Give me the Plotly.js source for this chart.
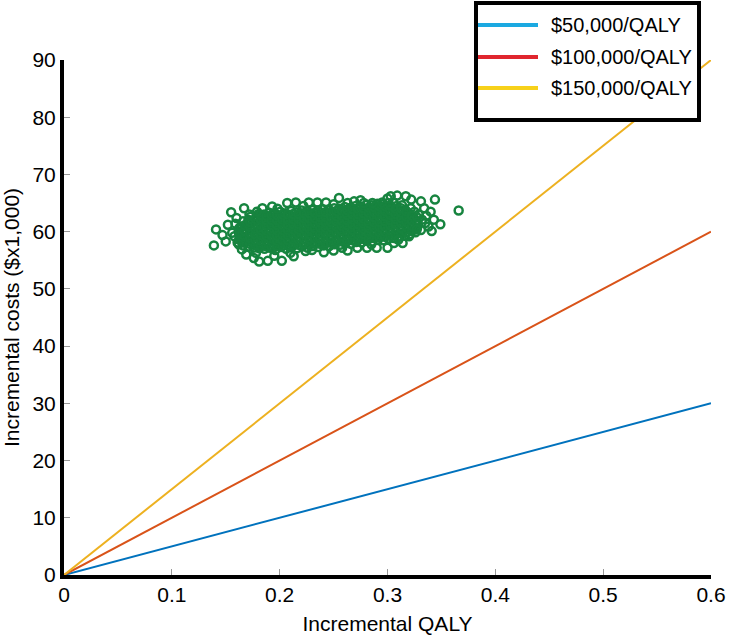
<!DOCTYPE html>
<html>
<head>
<meta charset="utf-8">
<script src="https://cdn.plot.ly/plotly-3.0.1.min.js"></script>
<style>html,body{margin:0;padding:0;background:#fff;}#chart{width:732px;height:638px;}</style>
</head>
<body>
<div id="chart"></div>
<script>
// Probabilistic sensitivity analysis: incremental QALY (x) vs incremental cost in $1,000 (y)
// Core of the cloud
const qalyCore = [
0.161,0.158,0.162,0.159,
0.166,0.163,0.167,0.164,0.166,
0.171,0.168,0.172,0.169,0.170,0.171,
0.176,0.173,0.177,0.174,0.175,0.176,0.173,
0.181,0.178,0.182,0.179,0.180,0.1815,0.1785,0.1805,
0.186,0.183,0.187,0.184,0.185,0.1865,0.1835,0.1855,
0.191,0.188,0.192,0.189,0.190,0.1915,0.1885,0.1905,
0.196,0.193,0.197,0.194,0.195,0.1965,0.1935,0.1955,
0.201,0.198,0.202,0.199,0.200,0.2015,0.1985,0.2005,
0.206,0.203,0.207,0.204,0.205,0.2065,0.2035,0.2055,
0.211,0.208,0.212,0.209,0.210,0.2115,0.2085,0.2105,
0.216,0.213,0.217,0.214,0.215,0.2165,0.2135,0.2155,
0.221,0.218,0.222,0.219,0.220,0.2215,0.2185,0.2205,
0.226,0.223,0.227,0.224,0.225,0.2265,0.2235,0.2255,
0.231,0.228,0.232,0.229,0.230,0.2315,0.2285,0.2305,
0.236,0.233,0.237,0.234,0.235,0.2365,0.2335,0.2355,
0.241,0.238,0.242,0.239,0.240,0.2415,0.2385,0.2405,
0.246,0.243,0.247,0.244,0.245,0.2465,0.2435,0.2455,
0.251,0.248,0.252,0.249,0.250,0.2515,0.2485,0.2505,
0.256,0.253,0.257,0.254,0.255,0.2565,0.2535,0.2555,
0.261,0.258,0.262,0.259,0.260,0.2615,0.2585,0.2605,
0.266,0.263,0.267,0.264,0.265,0.2665,0.2635,0.2655,
0.271,0.268,0.272,0.269,0.270,0.2715,0.2685,0.2705,
0.276,0.273,0.277,0.274,0.275,0.2765,0.2735,0.2755,
0.281,0.278,0.282,0.279,0.280,0.2815,0.2785,0.2805,
0.286,0.283,0.287,0.284,0.285,0.2865,0.2835,0.2855,
0.291,0.288,0.292,0.289,0.290,0.2915,0.2885,0.2905,
0.296,0.293,0.297,0.294,0.295,0.2965,0.2935,0.2955,
0.301,0.298,0.302,0.299,0.300,0.3015,0.2985,0.3005,
0.306,0.303,0.307,0.304,0.305,0.3065,0.3035,0.3055,
0.311,0.308,0.312,0.309,0.310,0.3115,0.3085,
0.316,0.313,0.317,0.314,0.315,0.3165,0.3135,
0.321,0.318,0.322,0.319,0.320,0.3215,
0.326,0.323,0.327,0.324,0.325,
0.331,0.328,0.332,0.329
];
const costCore = [
58.1,59.2,60.0,61.4,
57.6,58.9,59.6,60.9,61.8,
57.4,58.5,59.3,60.4,61.3,62.1,
57.2,58.3,59.0,60.2,60.8,61.9,62.6,
57.1,58.1,58.9,59.9,60.9,61.6,62.7,63.1,
57.0,57.8,58.9,59.5,60.7,61.4,62.4,63.0,
57.2,58.0,59.0,59.8,60.6,61.7,62.4,63.3,
56.8,57.9,58.6,59.7,60.4,61.5,62.2,63.2,
57.3,58.0,59.1,59.9,60.8,61.6,62.6,63.5,
57.0,58.1,58.8,59.8,60.7,61.5,62.4,63.2,
57.3,58.2,59.1,60.0,60.9,61.8,62.7,63.6,
57.1,58.0,59.0,59.9,60.8,61.7,62.6,63.4,
57.4,58.3,59.2,60.1,61.0,61.9,62.8,63.7,
57.2,58.1,59.0,60.0,60.9,61.8,62.7,63.6,
57.5,58.4,59.3,60.2,61.1,62.0,62.9,63.8,
57.3,58.2,59.2,60.1,61.0,61.9,62.8,63.7,
57.6,58.5,59.4,60.3,61.2,62.1,63.0,63.9,
57.5,58.4,59.3,60.3,61.2,62.1,63.0,63.9,
57.8,58.7,59.6,60.5,61.4,62.3,63.2,64.1,
57.7,58.6,59.5,60.4,61.3,62.2,63.1,64.0,
58.0,58.9,59.8,60.7,61.6,62.5,63.4,64.3,
57.9,58.8,59.7,60.6,61.5,62.4,63.3,64.2,
58.2,59.1,60.0,60.9,61.8,62.7,63.6,64.5,
58.1,59.0,59.9,60.8,61.7,62.6,63.5,64.4,
58.4,59.3,60.2,61.1,62.0,62.9,63.8,64.7,
58.3,59.2,60.1,61.0,61.9,62.8,63.7,64.6,
58.6,59.5,60.4,61.3,62.2,63.1,64.0,64.9,
58.5,59.4,60.3,61.2,62.1,63.0,63.9,64.8,
58.8,59.7,60.6,61.5,62.4,63.3,64.2,65.0,
58.9,59.8,60.7,61.6,62.5,63.4,64.3,65.1,
59.1,60.0,60.9,61.8,62.7,63.6,64.5,
59.3,60.2,61.1,62.0,62.9,63.8,64.6,
59.6,60.5,61.4,62.3,63.2,64.1,
59.9,60.8,61.7,62.6,63.5,
60.3,61.2,62.1,63.0
];
// Points lying between the core ones (dense middle of the cloud)
const qalyMid = [
0.1625,0.1625,0.1625,
0.1675,0.1675,0.1675,0.1675,
0.1725,0.1725,0.1725,0.1725,0.1725,
0.1775,0.1775,0.1775,0.1775,0.1775,0.1775,
0.1825,0.1825,0.1825,0.1825,0.1825,0.1825,0.1825,
0.1875,0.1875,0.1875,0.1875,0.1875,0.1875,0.1875,
0.1925,0.1925,0.1925,0.1925,0.1925,0.1925,0.1925,
0.1975,0.1975,0.1975,0.1975,0.1975,0.1975,0.1975,
0.2025,0.2025,0.2025,0.2025,0.2025,0.2025,0.2025,
0.2075,0.2075,0.2075,0.2075,0.2075,0.2075,0.2075,
0.2125,0.2125,0.2125,0.2125,0.2125,0.2125,0.2125,
0.2175,0.2175,0.2175,0.2175,0.2175,0.2175,0.2175,
0.2225,0.2225,0.2225,0.2225,0.2225,0.2225,0.2225,
0.2275,0.2275,0.2275,0.2275,0.2275,0.2275,0.2275,
0.2325,0.2325,0.2325,0.2325,0.2325,0.2325,0.2325,
0.2375,0.2375,0.2375,0.2375,0.2375,0.2375,0.2375,
0.2425,0.2425,0.2425,0.2425,0.2425,0.2425,0.2425,
0.2475,0.2475,0.2475,0.2475,0.2475,0.2475,0.2475,
0.2525,0.2525,0.2525,0.2525,0.2525,0.2525,0.2525,
0.2575,0.2575,0.2575,0.2575,0.2575,0.2575,0.2575,
0.2625,0.2625,0.2625,0.2625,0.2625,0.2625,0.2625,
0.2675,0.2675,0.2675,0.2675,0.2675,0.2675,0.2675,
0.2725,0.2725,0.2725,0.2725,0.2725,0.2725,0.2725,
0.2775,0.2775,0.2775,0.2775,0.2775,0.2775,0.2775,
0.2825,0.2825,0.2825,0.2825,0.2825,0.2825,0.2825,
0.2875,0.2875,0.2875,0.2875,0.2875,0.2875,0.2875,
0.2925,0.2925,0.2925,0.2925,0.2925,0.2925,0.2925,
0.2975,0.2975,0.2975,0.2975,0.2975,0.2975,0.2975,
0.3025,0.3025,0.3025,0.3025,0.3025,0.3025,0.3025,
0.3075,0.3075,0.3075,0.3075,0.3075,0.3075,
0.3125,0.3125,0.3125,0.3125,0.3125,0.3125,
0.3175,0.3175,0.3175,0.3175,0.3175,
0.3225,0.3225,0.3225,0.3225,
0.3275,0.3275,0.3275
];
const costMid = [
58.6,59.6,60.6,
58.1,59.1,60.1,61.1,
57.9,58.9,59.8,60.8,61.7,
57.7,58.6,59.5,60.5,61.4,62.2,
57.5,58.4,59.4,60.3,61.2,62.1,62.9,
57.5,58.4,59.3,60.2,61.1,62.0,62.8,
57.4,58.3,59.3,60.2,61.1,62.0,62.9,
57.5,58.4,59.3,60.2,61.1,62.0,62.9,
57.5,58.5,59.4,60.3,61.2,62.1,63.0,
57.6,58.5,59.4,60.3,61.2,62.1,63.0,
57.6,58.6,59.5,60.4,61.3,62.2,63.1,
57.7,58.6,59.5,60.4,61.3,62.2,63.1,
57.8,58.7,59.6,60.5,61.4,62.3,63.2,
57.8,58.7,59.6,60.5,61.4,62.3,63.2,
57.9,58.8,59.7,60.6,61.5,62.4,63.3,
57.9,58.8,59.7,60.7,61.6,62.5,63.4,
58.0,58.9,59.8,60.7,61.6,62.5,63.4,
58.1,59.0,59.9,60.8,61.7,62.6,63.5,
58.2,59.1,60.0,60.9,61.8,62.7,63.6,
58.3,59.2,60.1,61.0,61.9,62.8,63.7,
58.4,59.3,60.2,61.1,62.0,62.9,63.8,
58.5,59.4,60.3,61.2,62.1,63.0,63.9,
58.6,59.5,60.4,61.3,62.2,63.1,64.0,
58.7,59.6,60.5,61.4,62.3,63.2,64.1,
58.8,59.7,60.6,61.5,62.4,63.3,64.2,
58.9,59.8,60.7,61.6,62.5,63.4,64.3,
59.0,59.9,60.8,61.7,62.6,63.5,64.4,
59.1,60.0,60.9,61.8,62.7,63.6,64.5,
59.3,60.2,61.1,62.0,62.9,63.8,64.6,
59.5,60.4,61.3,62.2,63.1,64.0,
59.7,60.6,61.5,62.4,63.3,64.1,
59.9,60.8,61.7,62.6,63.5,
60.1,61.0,61.9,62.8,
60.7,61.6,62.5
];
// Scattered points at the rim of the cloud
const qalyOuter = [
0.207,0.215,0.227,0.235,0.243,0.255,0.263,0.269,0.278,0.286,
0.295,0.303,0.309,0.317,0.331,0.344,0.334,0.340,0.343,0.349,
0.341,0.338,0.366,0.155,0.167,0.141,0.139,0.150,0.156,0.165,
0.169,0.176,0.181,0.189,0.202,0.213,0.224,0.241,0.250,0.263,
0.272,0.281,0.290,0.300,0.306,0.314,0.320,0.327,0.184,0.193,
0.179,
0.152,0.160,0.172,0.198,0.222,0.250,0.275,0.300,0.322,0.336,
0.335,0.310,0.285,0.258,0.230,0.210,0.195,0.178,0.162,0.147
];
const costOuter = [
65.0,65.1,65.1,65.1,65.1,65.9,65.0,65.3,65.0,65.0,
65.1,66.2,66.3,66.2,65.3,65.6,64.1,63.5,62.1,61.3,
60.1,60.9,63.7,63.4,64.1,60.4,57.6,58.3,59.8,56.9,
56.0,55.4,54.8,54.9,54.9,55.7,56.6,56.4,56.7,56.7,
57.2,57.2,57.2,57.2,58.0,58.0,59.2,60.4,64.1,64.4,
63.5,
61.2,62.4,63.0,64.0,64.5,64.8,65.5,65.8,65.6,62.8,
61.5,58.6,57.8,57.2,56.8,56.3,55.8,56.3,57.8,59.4
];

// Willingness-to-pay threshold lines (endpoints)
const wtpLabels = ['$50,000/QALY', '$100,000/QALY', '$150,000/QALY'];
const lineQaly = [0, 0.6];
const lineCost50 = [0, 30];
const lineCost100 = [0, 60];
const lineCost150 = [0, 90];

const lineColors = ['#0072BD', '#D95319', '#EDB120'];
const legendColors = ['#1BA9E1', '#E0262E', '#F7D11A'];
const FONT = 'Liberation Sans, Arial, Helvetica, sans-serif';
const GREEN = '#17843f';

const qaly = qalyCore.concat(qalyMid, qalyOuter);
const cost = costCore.concat(costMid, costOuter);

const traces = [
  {x: lineQaly, y: lineCost50, mode: 'lines', line: {color: lineColors[0], width: 2}, name: wtpLabels[0], showlegend: false},
  {x: lineQaly, y: lineCost100, mode: 'lines', line: {color: lineColors[1], width: 2}, name: wtpLabels[1], showlegend: false},
  {x: lineQaly, y: lineCost150, mode: 'lines', line: {color: lineColors[2], width: 2}, name: wtpLabels[2], showlegend: false},
  {x: qaly, y: cost, mode: 'markers', type: 'scatter', showlegend: false,
   marker: {symbol: 'circle-open', size: 8, color: GREEN, line: {width: 2.5, color: GREEN}}}
];

// Legend box drawn in paper coordinates
const L = 64, W = 647, T = 60, H = 515;
const px = v => (v - L) / W;
const py = v => (T + H - v) / H;
const shapes = [
  {type: 'rect', xref: 'paper', yref: 'paper', x0: px(476), x1: px(699), y0: py(120), y1: py(3),
   line: {color: 'black', width: 4}, fillcolor: 'white', layer: 'above'}
];
const annotations = [];
const entryY = [25, 57, 88];
wtpLabels.forEach((lab, i) => {
  shapes.push({type: 'line', xref: 'paper', yref: 'paper', x0: px(478), x1: px(538), y0: py(entryY[i]), y1: py(entryY[i]),
    line: {color: legendColors[i], width: 4}, layer: 'above'});
  annotations.push({xref: 'paper', yref: 'paper', x: px(549), y: py(entryY[i]), xanchor: 'left', yanchor: 'middle',
    text: lab, showarrow: false, font: {family: FONT, size: 20, color: 'black'}});
});

const layout = {
  width: 732, height: 638,
  margin: {l: L, r: 732 - L - W, t: T, b: 638 - T - H},
  paper_bgcolor: 'white', plot_bgcolor: 'white',
  font: {family: FONT, color: 'black'},
  showlegend: false,
  xaxis: {range: [0, 0.6], tick0: 0, dtick: 0.1, ticks: 'inside', ticklen: 6, tickcolor: '#999', tickwidth: 1,
          ticklabelstandoff: -2,
          showline: true, linewidth: 4, linecolor: 'black', showgrid: false, zeroline: false,
          tickfont: {family: FONT, size: 21, color: 'black'},
          title: {text: 'Incremental QALY', font: {family: FONT, size: 21, color: 'black'}, standoff: 12}},
  yaxis: {range: [0, 90], tick0: 0, dtick: 10, ticks: 'inside', ticklen: 6, tickcolor: '#999', tickwidth: 1,
          showline: true, linewidth: 4, linecolor: 'black', showgrid: false, zeroline: false,
          tickfont: {family: FONT, size: 21, color: 'black'},
          title: {text: 'Incremental costs ($x1,000)', font: {family: FONT, size: 21, color: 'black'}, standoff: 8}},
  shapes: shapes,
  annotations: annotations
};

Plotly.newPlot('chart', traces, layout, {staticPlot: true, displayModeBar: false});
</script>
</body>
</html>
